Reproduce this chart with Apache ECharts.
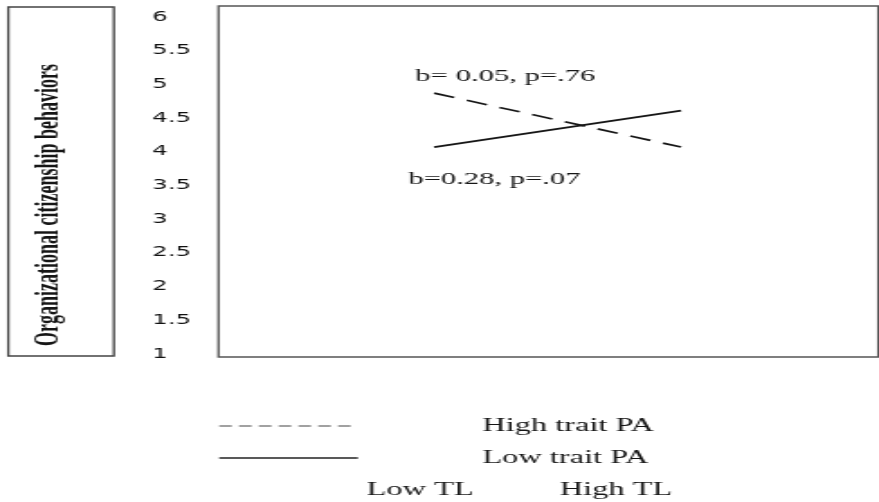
<!DOCTYPE html>
<html>
<head>
<meta charset="utf-8">
<script src="https://cdn.jsdelivr.net/npm/echarts@6/dist/echarts.min.js"></script>
<style>
  html, body { margin: 0; padding: 0; background: #fff; overflow: hidden; }
  /* the figure is stretched horizontally, so draw narrow and scale */
  #chart { width: 488px; height: 502px; transform: scaleX(1.8012); transform-origin: 0 0; }
</style>
</head>
<body>
<div id="chart"></div>
<script>
const tlLevels = [0, 1];
const tlLabels = ['Low TL', 'High TL'];
const seriesNames = ['High trait PA', 'Low trait PA'];
const highPA = [4.87, 4.07];
const lowPA = [4.07, 4.61];
const notes = ['b= 0.05, p=.76', 'b=0.28, p=.07'];
const yTicks = [1, 1.5, 2, 2.5, 3, 3.5, 4, 4.5, 5, 5.5, 6];

const serif = 'Liberation Serif';
const ink = '#161616';

const chart = echarts.init(document.getElementById('chart'));

function pairs(vals) {
  return tlLevels.map((x, i) => [x, vals[i]]);
}

function note(text, x, y, pos) {
  return {
    symbol: 'circle',
    symbolSize: 1,
    itemStyle: { color: 'rgba(0,0,0,0)' },
    data: [{
      coord: [x, y],
      label: {
        show: true,
        formatter: text,
        position: pos,
        align: 'center',
        verticalAlign: 'middle',
        color: ink,
        fontFamily: serif,
        fontSize: 17
      }
    }]
  };
}

chart.setOption({
  animation: false,
  grid: { left: 121.6, right: 0.5, top: 17, bottom: 148 },
  xAxis: {
    type: 'value',
    min: -0.871,
    max: 1.798,
    show: false
  },
  yAxis: {
    type: 'value',
    min: yTicks[0],
    max: yTicks[yTicks.length - 1],
    interval: 0.5,
    axisLine: { show: false },
    axisTick: { show: false },
    splitLine: { show: false },
    axisLabel: {
      margin: 37,
      align: 'left',
      color: '#111',
      fontFamily: 'DejaVu Sans',
      fontSize: 13.5
    }
  },
  legend: {
    orient: 'vertical',
    left: 121,
    top: 417,
    padding: 0,
    itemWidth: 77,
    itemHeight: 14,
    itemGap: 14,
    itemStyle: { color: 'rgba(0,0,0,0)', borderWidth: 0 },
    textStyle: { color: ink, fontFamily: serif, fontSize: 18, padding: [0, 0, 0, 64] },
    data: [
      { name: seriesNames[0], lineStyle: { type: [7, 4], width: 1.2, color: '#444' } },
      { name: seriesNames[1], lineStyle: { width: 1.4, color: '#222' } }
    ]
  },
  series: [
    {
      name: seriesNames[0],
      type: 'line',
      symbol: 'none',
      data: pairs(highPA),
      itemStyle: { color: ink },
      lineStyle: { color: ink, width: 1.7, type: [12, 7.5] },
      markPoint: note(notes[0], tlLevels[0], highPA[0], [40, -16])
    },
    {
      name: seriesNames[1],
      type: 'line',
      symbol: 'none',
      data: pairs(lowPA),
      itemStyle: { color: ink },
      lineStyle: { color: ink, width: 1.7 },
      markPoint: note(notes[1], tlLevels[0], lowPA[0], [34, 33])
    }
  ],
  graphic: [
    // plot frame
    { type: 'rect', shape: { x: 121.3, y: 6, width: 366.3, height: 351 },
      style: { fill: null, stroke: '#555', lineWidth: 1.3 }, silent: true },
    // framed axis title
    { type: 'rect', shape: { x: 4.6, y: 7, width: 58.6, height: 349 },
      style: { fill: null, stroke: '#444', lineWidth: 1.3 }, silent: true },
    { type: 'text', x: 27.8, y: 205, rotation: Math.PI / 2,
      style: { text: 'Organizational citizenship behaviors', fill: ink,
               font: 'bold 18px "Liberation Serif"', align: 'center', verticalAlign: 'middle' } },
    { type: 'text', x: 233.2, y: 490,
      style: { text: tlLabels[0], fill: ink, font: '18px "Liberation Serif"',
               align: 'center', verticalAlign: 'middle' } },
    { type: 'text', x: 342, y: 490,
      style: { text: tlLabels[1], fill: ink, font: '18px "Liberation Serif"',
               align: 'center', verticalAlign: 'middle' } }
  ]
});
</script>
</body>
</html>
